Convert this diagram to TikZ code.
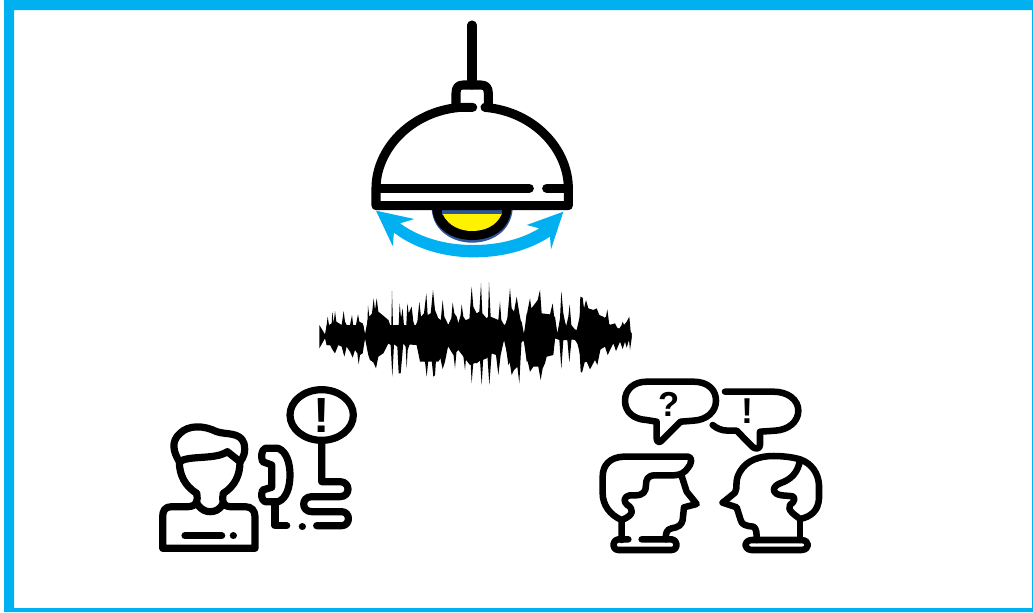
\documentclass[tikz,border=0pt]{standalone}
\usepackage{fontspec}
\setmainfont{Liberation Sans}
\definecolor{sky}{HTML}{00B0F0}
\definecolor{bulbblue}{HTML}{2F5597}
\tikzset{
  ink/.style={draw=black,line width=#1,line cap=round,line join=round},
  ink/.default=5.4pt,
  glyphmark/.style={inner sep=0pt,font=\bfseries},
  zoomA/.style={shift={(350,10)},x=0.25pt,y=-0.25pt},
  zoomB/.style={shift={(140,380)},x=0.25pt,y=-0.25pt},
  zoomC/.style={shift={(590,370)},x=0.25pt,y=-0.25pt},
  zoomD/.style={shift={(310,275)},x=0.25pt,y=-0.25pt}
}
\begin{document}
\begin{tikzpicture}[x=0.75pt,y=-0.75pt]
\useasboundingbox (0,0) rectangle (1033,612);
\fill[white] (0,0) rectangle (1033,612);
% frame
\fill[sky,even odd rule] (4,0) rectangle (1033,612) (14,10) rectangle (1032,608);

% lamp
\begin{scope}[zoomA]
  % bulb
  \fill[bulbblue] (245,598) .. controls (250,665) and (310,698) .. (366,698) .. controls (425,698) and (482,665) .. (488,598) -- cycle;
  \fill[black] (247,598) .. controls (252,660) and (310,690) .. (366,690) .. controls (425,690) and (478,660) .. (484,598) -- cycle;
  \fill[bulbblue] (276,598) rectangle (457,614);
  \fill[yellow] (278,612) .. controls (295,650) and (335,663) .. (366,663) .. controls (400,663) and (440,650) .. (455,612) -- cycle;
  % shade
  \draw[ink=6.8pt] (366,45) -- (366,225);
  \draw[ink=6.8pt] (318,290) -- (318,250) .. controls (318,232) and (325,225) .. (340,225) -- (392,225) .. controls (407,225) and (415,232) .. (415,250) -- (415,290);
  \draw[ink=6.8pt] (368,292) -- (330,292) .. controls (180,305) and (78,420) .. (78,535) -- (78,587) -- (655,587) -- (655,535) .. controls (655,420) and (555,305) .. (405,292);
  \draw[ink=6.8pt] (80,535) -- (538,535);
  \draw[ink=6.8pt] (590,535) -- (655,535);
  % swing arrow
  \fill[sky] (78,602) -- (193,627) -- (150,640)
     .. controls (220,690) and (300,705) .. (370,705)
     .. controls (440,705) and (510,690) .. (568,655)
     -- (530,645) -- (640,605) -- (603,718) -- (600,680)
     .. controls (530,725) and (450,742) .. (370,742)
     .. controls (290,742) and (200,720) .. (132,668)
     -- (128,708) -- cycle;
\end{scope}

% waveform
\begin{scope}[zoomD]
\fill[black] plot coordinates {(28,150)(45,178)(50,150)(53,125)(57,150)(65,145)(67,110)(71,145)(75,108)(79,140)(95,150)(101,108)(105,140)(115,160)(120,150)(126,120)(130,155)(137,155)(144,118)(148,140)(158,145)(165,180)(171,178)(174,92)(178,125)(186,115)(191,70)(195,105)(200,70)(205,110)(215,118)(235,135)(240,150)(244,150)(246,48)(249,150)(266,150)(269,85)(273,130)(278,100)(282,155)(289,150)(292,85)(296,115)(305,95)(310,140)(315,155)(322,140)(328,80)(333,125)(342,115)(349,55)(353,120)(362,115)(369,45)(375,105)(385,130)(392,140)(398,75)(403,125)(415,150)(424,130)(428,82)(433,115)(440,125)(445,145)(452,120)(455,88)(460,125)(470,140)(478,135)(485,35)(490,95)(500,115)(508,110)(513,25)(517,115)(530,130)(534,125)(537,22)(542,125)(565,135)(570,80)(574,135)(585,155)(592,130)(600,40)(605,100)(612,110)(620,65)(628,115)(635,150)(641,180)(648,150)(652,110)(660,70)(664,100)(672,90)(683,75)(690,45)(695,115)(720,118)(728,85)(733,130)(742,178)(750,130)(754,48)(760,115)(768,155)(775,125)(779,88)(784,150)(800,170)(808,150)(811,65)(818,68)(822,100)(828,75)(835,100)(850,105)(860,100)(868,120)(880,130)(888,125)(892,103)(898,150)(915,145)(925,165)(935,150)(938,140)(942,150)(950,140)(958,125)(962,170)(965,175)(965,190)(960,225)(957,195)(950,218)(945,200)(938,222)(930,200)(918,228)(910,205)(893,240)(885,215)(872,220)(862,270)(855,255)(840,283)(830,260)(824,262)(816,293)(812,290)(808,215)(795,195)(785,190)(778,262)(772,195)(760,195)(754,282)(748,195)(735,190)(728,240)(715,225)(705,265)(698,280)(692,315)(685,275)(670,275)(660,290)(650,245)(642,200)(635,195)(632,245)(628,325)(622,275)(612,285)(605,300)(598,255)(590,230)(582,195)(572,240)(565,300)(558,240)(545,235)(538,330)(532,240)(520,245)(515,330)(510,255)(500,265)(490,260)(485,325)(480,225)(470,225)(465,285)(458,225)(450,220)(440,225)(435,280)(428,215)(415,210)(405,260)(398,282)(390,245)(380,225)(375,300)(370,305)(365,255)(355,255)(350,305)(345,260)(335,255)(328,240)(320,210)(300,205)(293,225)(290,280)(287,215)(280,205)(272,295)(266,295)(262,215)(252,208)(247,305)(242,210)(235,205)(220,235)(205,245)(198,280)(190,262)(180,255)(175,240)(170,195)(165,190)(158,235)(150,240)(146,268)(142,235)(135,225)(128,248)(120,230)(110,215)(103,245)(95,215)(85,210)(75,235)(68,225)(60,210)(50,210)(45,190)(28,220)} -- cycle;
\fill[black] plot coordinates {(50,150)(160,150)(165,178)(175,125)(235,135)(240,150)(320,150)(330,125)(385,130)(415,150)(430,120)(445,145)(480,130)(530,130)(585,150)(595,125)(635,140)(642,178)(650,115)(735,125)(742,175)(755,120)(770,155)(800,165)(815,100)(880,125)(900,150)(965,175)(965,190)(900,205)(815,260)(800,195)(745,190)(735,190)(730,240)(650,260)(642,198)(635,200)(595,270)(585,195)(530,250)(480,270)(445,225)(430,240)(415,215)(385,260)(330,260)(320,210)(240,205)(235,205)(175,240)(165,190)(160,210)(50,210)} -- cycle;
\end{scope}

% person on the phone
\begin{scope}[zoomB]
  % body
  \draw[ink] (170,340) .. controls (174,362) and (172,378) .. (145,380) -- (95,380) .. controls (75,380) and (68,392) .. (68,410) -- (68,505) -- (345,505) -- (345,410) .. controls (345,392) and (335,380) .. (315,380) -- (270,380) .. controls (246,378) and (246,362) .. (250,340);
  \draw[ink] (172,372) .. controls (185,392) and (200,395) .. (210,395) .. controls (222,395) and (238,392) .. (248,372);
  \draw[ink] (135,467) -- (245,467);
  \draw[ink] (280,467) -- (280.1,467);
  % head
  \draw[ink] (118,245) .. controls (100,215) and (92,185) .. (120,160) .. controls (145,135) and (190,135) .. (230,155) .. controls (260,165) and (300,155) .. (312,190) .. controls (318,215) and (310,235) .. (300,245);
  \draw[ink] (118,245) .. controls (150,225) and (225,240) .. (262,215) -- (300,245);
  \draw[ink] (118,245) .. controls (118,285) and (135,318) .. (170,340);
  \draw[ink] (250,340) .. controls (285,318) and (300,285) .. (300,245);
  % handset
  \draw[ink] (375,205) -- (415,205) .. controls (440,215) and (450,250) .. (450,285) .. controls (450,320) and (440,355) .. (415,365) -- (375,365) .. controls (365,360) and (362,345) .. (368,330) -- (395,322) -- (395,255) -- (368,245) .. controls (362,230) and (365,210) .. (375,205);
  % cord
  \draw[ink] (405,375) -- (405,437) -- (440,437);
  \draw[ink] (487,440) -- (487.1,440);
  \draw[ink] (530,437) -- (605,437) .. controls (632,437) and (632,395) .. (605,395) -- (515,395) .. controls (483,395) and (483,350) .. (515,350) -- (600,350) .. controls (632,350) and (632,305) .. (600,305) -- (545,305) -- (545,182);
  % alert bubble
  \draw[ink] (545,105) ellipse [x radius=95,y radius=76];
  \node[glyphmark,font=\bfseries\fontsize{37}{37}\selectfont] (alertmark) at (545,107) {!};
\end{scope}

% two people talking
\begin{scope}[zoomC]
  % question bubble
  \draw[ink=4.9pt] (170,35) -- (310,35) .. controls (355,35) and (378,60) .. (378,92) .. controls (378,125) and (350,150) .. (310,152) -- (272,155) -- (215,212) .. controls (207,220) and (200,215) .. (200,205) -- (200,155) -- (170,150) .. controls (130,148) and (105,125) .. (105,92) .. controls (105,60) and (130,35) .. (170,35) -- cycle;
  \node[glyphmark,font=\bfseries\fontsize{26}{26}\selectfont] (qmark) at (238,103) {?};
  % answer bubble
  \draw[ink=4.9pt] (405,65) -- (550,65) .. controls (595,65) and (625,90) .. (625,122) .. controls (625,155) and (595,180) .. (555,182) -- (510,185) -- (510,225) .. controls (510,238) and (495,238) .. (487,230) -- (440,182) -- (415,182) .. controls (395,182) and (380,175) .. (368,165);
  \node[glyphmark,font=\bfseries\fontsize{27}{27}\selectfont] (emark) at (472,124) {!};
  % left head
  \draw[ink=4.9pt] (95,450) .. controls (60,435) and (38,405) .. (38,370) -- (38,320) .. controls (38,285) and (60,262) .. (100,260) -- (295,260) .. controls (310,262) and (302,285) .. (295,292) .. controls (285,308) and (270,316) .. (250,316) -- (195,316) .. controls (172,316) and (168,330) .. (168,345) .. controls (168,365) and (160,376) .. (135,376) -- (120,376) .. controls (100,380) and (100,395) .. (112,405) .. controls (130,415) and (135,435) .. (95,450) -- (95,510);
  \draw[ink=4.9pt] (275,318) -- (290,365) -- (320,402) -- (282,412) -- (278,450) .. controls (275,465) and (265,472) .. (245,475) .. controls (230,478) and (226,490) .. (228,508);
  \draw[ink=4.9pt] (115,508) -- (85,508) .. controls (65,512) and (65,538) .. (85,540) -- (245,540) .. controls (265,538) and (265,512) .. (245,508) -- (155,508);
  % right head
  \draw[ink=4.9pt] (630,447) -- (630,510);
  \draw[ink=4.9pt] (398,398) -- (435,368) .. controls (445,350) and (432,335) .. (450,305) .. controls (470,270) and (510,258) .. (550,258) .. controls (580,258) and (610,262) .. (630,268) .. controls (665,280) and (685,310) .. (687,345) -- (687,385) .. controls (685,420) and (665,440) .. (630,447) .. controls (615,435) and (590,420) .. (600,405) .. controls (615,395) and (620,378) .. (600,378) -- (575,376) .. controls (545,372) and (545,350) .. (570,340) .. controls (600,330) and (625,310) .. (630,268);
  \draw[ink=4.9pt] (398,398) -- (440,412) -- (452,450) .. controls (455,465) and (470,468) .. (490,470) .. controls (500,475) and (500,490) .. (500,510);
  \draw[ink=4.9pt] (485,510) -- (635,510) .. controls (660,512) and (660,538) .. (635,540) -- (485,540) .. controls (460,538) and (460,512) .. (485,510) -- cycle;
\end{scope}
\end{tikzpicture}
\end{document}
